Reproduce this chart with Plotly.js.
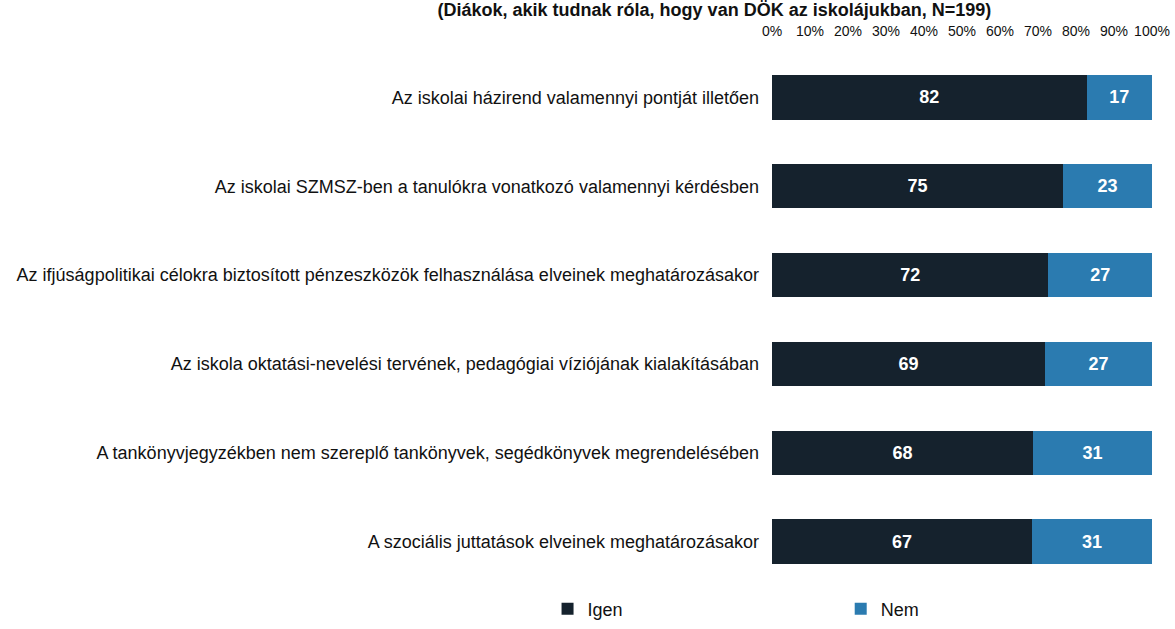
<!DOCTYPE html>
<html>
<head>
<meta charset="utf-8">
<script src="https://cdn.plot.ly/plotly-3.0.1.min.js"></script>
<style>html,body{margin:0;padding:0;background:#fff;}#chart{width:1175px;height:629px;}</style>
</head>
<body>
<div id="chart"></div>
<script>
const categories = [
  "Az iskolai házirend valamennyi pontját illetően",
  "Az iskolai SZMSZ-ben a tanulókra vonatkozó valamennyi kérdésben",
  "Az ifjúságpolitikai célokra biztosított pénzeszközök felhasználása elveinek meghatározásakor",
  "Az iskola oktatási-nevelési tervének, pedagógiai víziójának kialakításában",
  "A tankönyvjegyzékben nem szereplő tankönyvek, segédkönyvek megrendelésében",
  "A szociális juttatások elveinek meghatározásakor"
];
const igen = [82, 75, 72, 69, 68, 67];
const nem = [17, 23, 27, 27, 31, 31];
const seriesNames = ["Igen", "Nem"];
const titleText = "(Diákok, akik tudnak róla, hogy van DÖK az iskolájukban, N=199)";

const FONT = "Liberation Sans, Arial, sans-serif";

const traces = [
  {
    type: "bar", orientation: "h", name: seriesNames[0], legend: "legend",
    y: categories, x: igen, text: igen.map(String),
    textposition: "inside", insidetextanchor: "middle",
    textfont: {family: FONT, size: 18, color: "#ffffff", weight: "bold"},
    marker: {color: "#15222d"}, hoverinfo: "none"
  },
  {
    type: "bar", orientation: "h", name: seriesNames[1], legend: "legend2",
    y: categories, x: nem, text: nem.map(String),
    textposition: "inside", insidetextanchor: "middle",
    textfont: {family: FONT, size: 18, color: "#ffffff", weight: "bold"},
    marker: {color: "#2b7bb0"}, hoverinfo: "none"
  }
];

const legendBase = {
  orientation: "h", xref: "container", yref: "container",
  xanchor: "left", y: 0.061, yanchor: "top",
  font: {family: FONT, size: 18, color: "#111111"}
};

const layout = {
  width: 1175, height: 629,
  paper_bgcolor: "#ffffff", plot_bgcolor: "#ffffff",
  barmode: "stack", barnorm: "percent", bargap: 0.5,
  margin: {l: 772, r: 23, t: 53, b: 43},
  font: {family: FONT, color: "#111111"},
  title: {
    text: "<b>" + titleText + "</b>",
    font: {family: FONT, size: 18, color: "#111111"},
    xref: "container", x: 0.608, xanchor: "center",
    yref: "container", y: 0.995, yanchor: "top",
    pad: {t: 0, b: 0}
  },
  xaxis: {
    side: "top", range: [0, 100], dtick: 10, ticksuffix: "%",
    showgrid: false, zeroline: false, showline: false,
    ticks: "", ticklabelstandoff: 13, tickangle: 0,
    tickfont: {family: FONT, size: 14, color: "#111111"},
    fixedrange: true
  },
  yaxis: {
    autorange: "reversed", showgrid: false, zeroline: false, showline: false,
    ticks: "", ticklabelstandoff: 12,
    tickfont: {family: FONT, size: 18, color: "#111111"},
    fixedrange: true
  },
  showlegend: true,
  legend: Object.assign({}, legendBase, {x: 0.466}),
  legend2: Object.assign({}, legendBase, {x: 0.7155})
};

Plotly.newPlot("chart", traces, layout, {displayModeBar: false, staticPlot: true});
</script>
</body>
</html>
